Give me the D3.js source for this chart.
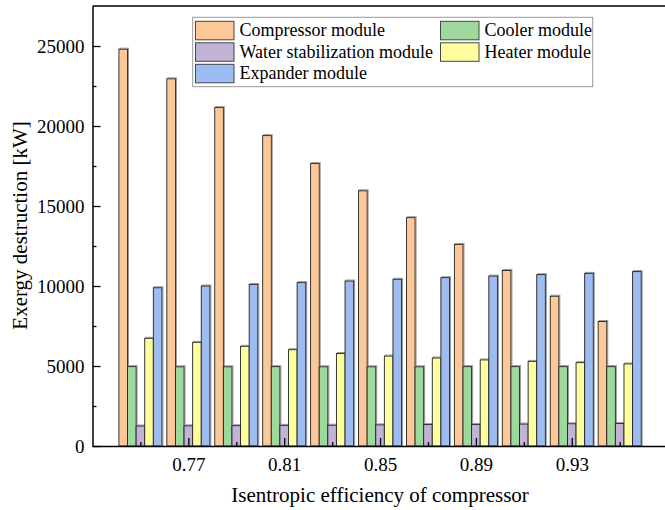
<!DOCTYPE html>
<html>
<head>
<meta charset="utf-8">
<script src="https://d3js.org/d3.v7.min.js"></script>
<style>
  body { margin: 0; background: #fff; }
  svg text { font-family: "Liberation Serif", "Tinos", "Times New Roman", "DejaVu Serif", serif; }
</style>
</head>
<body>
<svg width="665" height="510"></svg>
<script>
// isentropic efficiency of compressor
var efficiency = [0.75, 0.77, 0.79, 0.81, 0.83, 0.85, 0.87, 0.89, 0.91, 0.93, 0.95];

// exergy destruction [kW]
var compressor = [24800, 22950, 21150, 19400, 17650, 15950, 14270, 12600, 10970, 9360, 7780];
var cooler     = [4960, 4950, 4950, 4960, 4950, 4950, 4950, 4960, 4960, 4960, 4960];
var water      = [1250, 1260, 1270, 1290, 1300, 1320, 1340, 1350, 1370, 1390, 1410];
var heater     = [6730, 6480, 6230, 6020, 5780, 5620, 5500, 5380, 5290, 5210, 5130];
var expander   = [9890, 10000, 10100, 10210, 10310, 10420, 10520, 10620, 10710, 10790, 10900];

var seriesNames  = ["Compressor module", "Cooler module", "Water stabilization module", "Heater module", "Expander module"];
var seriesColors = ["#fdc897", "#9fd89d", "#c2b2d6", "#fffe9e", "#9dbcf2"];
var seriesValues = [compressor, cooler, water, heater, expander];

var xTicks = [0.77, 0.81, 0.85, 0.89, 0.93];
var xMinor = [0.75, 0.79, 0.83, 0.87, 0.91, 0.95];
var yTicks = [0, 5000, 10000, 15000, 20000, 25000];
var yMinor = [2500, 7500, 12500, 17500, 22500];

var serif = "'Liberation Serif', 'Tinos', 'Times New Roman', 'DejaVu Serif', serif";

var svg = d3.select("svg");

var x = d3.scaleLinear().domain([0.73, 0.97]).range([92.5, 667.6]);
var y = d3.scaleLinear().domain([0, 27500]).range([446, 6]);

var step = x(0.77) - x(0.75);
var barW = step * 0.898 / 5;

// bars
seriesValues.forEach(function(vals, s) {
  var g = svg.append("g");
  // soft shadow like the origin export
  g.selectAll("rect.sh")
    .data(vals)
    .enter().append("rect")
      .attr("class", "sh")
      .attr("x", function(d, i) { return x(efficiency[i]) + (s - 2.5) * barW + 1; })
      .attr("y", function(d) { return y(d) - 1; })
      .attr("width", barW)
      .attr("height", function(d) { return y(0) - y(d) + 1; })
      .style("fill", "none")
      .style("stroke", "#999")
      .style("stroke-width", "1px");
  g.selectAll("rect.bar")
    .data(vals)
    .enter().append("rect")
      .attr("class", "bar")
      .attr("x", function(d, i) { return x(efficiency[i]) + (s - 2.5) * barW; })
      .attr("y", function(d) { return y(d); })
      .attr("width", barW)
      .attr("height", function(d) { return y(0) - y(d); })
      .style("fill", seriesColors[s])
      .style("stroke", "#222")
      .style("stroke-width", "0.9px");
});

// x axis
svg.append("g")
  .attr("transform", "translate(0," + y(0) + ")")
  .call(d3.axisBottom(x).tickValues(xTicks).tickSizeInner(-8).tickSizeOuter(0).tickPadding(12)
    .tickFormat(d3.format(".2f")));
svg.append("g")
  .attr("transform", "translate(0," + y(0) + ")")
  .call(d3.axisBottom(x).tickValues(xMinor).tickSizeInner(-4).tickSizeOuter(0).tickFormat(""))
  .select(".domain").remove();

// y axis
svg.append("g")
  .attr("transform", "translate(" + x(0.73) + ",0)")
  .call(d3.axisLeft(y).tickValues(yTicks).tickSizeInner(-8).tickSizeOuter(0).tickPadding(8)
    .tickFormat(d3.format("d")));
svg.append("g")
  .attr("transform", "translate(" + x(0.73) + ",0)")
  .call(d3.axisLeft(y).tickValues(yMinor).tickSizeInner(-4).tickSizeOuter(0).tickFormat(""))
  .select(".domain").remove();

svg.selectAll("g").attr("font-family", serif);
svg.selectAll(".domain").style("stroke", "#000").style("stroke-width", "1.5px");
svg.selectAll(".tick line").style("stroke", "#000").style("stroke-width", "1.3px");
svg.selectAll(".tick text")
  .style("font-family", serif)
  .style("font-size", "19px")
  .style("fill", "#000");

// top frame line
svg.append("line")
  .attr("x1", x(0.73)).attr("x2", 665)
  .attr("y1", y(27500)).attr("y2", y(27500))
  .style("stroke", "#000").style("stroke-width", "1.5px");

// axis titles
svg.append("text")
  .attr("x", (x(0.73) + x(0.97)) / 2)
  .attr("y", 502)
  .attr("text-anchor", "middle")
  .style("font-family", serif)
  .style("font-size", "21px")
  .text("Isentropic efficiency of compressor");

svg.append("text")
  .attr("transform", "translate(27," + 225.5 + ") rotate(-90)")
  .attr("text-anchor", "middle")
  .style("font-family", serif)
  .style("font-size", "21px")
  .text("Exergy destruction [kW]");

// legend
var legend = svg.append("g");
legend.append("rect")
  .attr("x", 192.7).attr("y", 17.3)
  .attr("width", 400).attr("height", 69.4)
  .style("fill", "#fff").style("stroke", "#999").style("stroke-width", "1px");

var legendPos = [[0, 0], [1, 0], [0, 1], [1, 1], [0, 2]];
var colX = [195.5, 440.5];
seriesNames.forEach(function(name, s) {
  var col = legendPos[s][0], row = legendPos[s][1];
  var top = 21.3 + row * 21.5;
  legend.append("rect")
    .attr("x", colX[col]).attr("y", top)
    .attr("width", 38.5).attr("height", 18.5)
    .style("fill", seriesColors[s])
    .style("stroke", "#444").style("stroke-width", "1px");
  legend.append("text")
    .attr("x", colX[col] + 44).attr("y", top + 15)
    .style("font-family", serif)
    .style("font-size", "18px")
    .text(name);
});
</script>
</body>
</html>
